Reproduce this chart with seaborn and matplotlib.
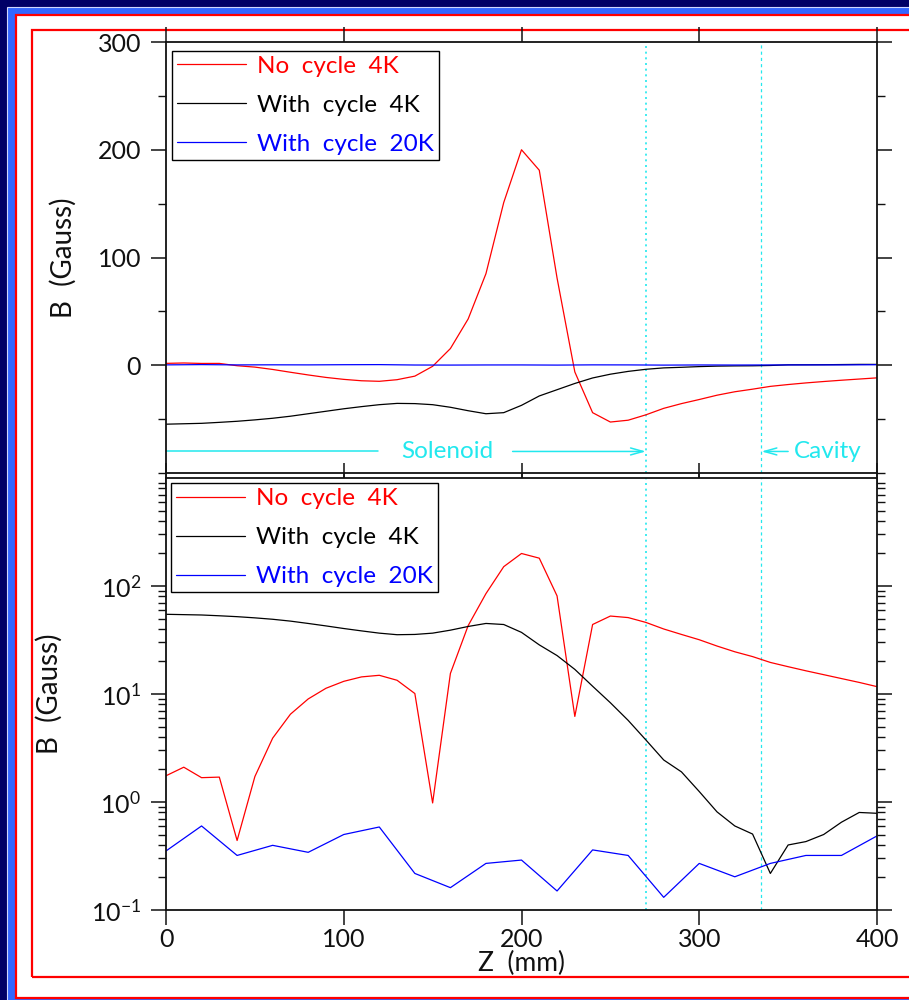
import numpy as np
import pandas as pd
import matplotlib
matplotlib.use("Agg")
import matplotlib.pyplot as plt
from matplotlib.patches import Rectangle
from matplotlib.ticker import MultipleLocator, LogLocator, NullFormatter, FixedLocator, FuncFormatter
import seaborn as sns

# ---------------- data ----------------
z_fine = list(range(0, 401, 10))
no_cycle_4k = [1.75, 2.1, 1.68, 1.70, -0.44, -1.72, -3.9, -6.5, -9.0, -11.3,
               -13.1, -14.4, -14.9, -13.4, -10.1, -0.98, 15.5, 43.0, 85.0, 151.0,
               200.0, 181.0, 81.0, -6.2, -44.0, -52.7, -51.0, -46.0, -40.0, -35.6,
               -31.8, -27.8, -24.6, -22.2, -19.6, -17.9, -16.4, -15.1, -13.9, -12.8,
               -11.7]
with_cycle_4k = [-54.7, -54.3, -53.9, -53.0, -52.0, -50.7, -49.2, -47.3, -45.0, -42.7,
                 -40.4, -38.4, -36.6, -35.4, -35.6, -36.6, -39.0, -42.2, -45.0, -44.0,
                 -37.2, -28.5, -22.7, -16.9, -11.8, -8.3, -5.7, -3.75, -2.45, -1.9,
                 -1.25, -0.81, -0.60, -0.505, -0.218, 0.40, 0.43, 0.50, 0.65, 0.80,
                 0.786]
z_coarse = list(range(0, 401, 20))
with_cycle_20k = [0.352, 0.60, 0.32, 0.397, 0.342, 0.50, 0.587, 0.218, 0.161, 0.27,
                  0.29, 0.15, 0.36, 0.32, 0.131, 0.27, 0.203, 0.27, 0.32, 0.32, 0.485]

labels = ["No  cycle  4K", "With  cycle  4K", "With  cycle  20K"]
colors = ["#ff0000", "#000000", "#0000ff"]
solenoid_end = 270
cavity_start = 335
lin_ticks = [0, 100, 200, 300]
x_ticks = [0, 100, 200, 300, 400]

df = pd.concat([
    pd.DataFrame({"Z": z_fine, "B": no_cycle_4k, "series": labels[0]}),
    pd.DataFrame({"Z": z_fine, "B": with_cycle_4k, "series": labels[1]}),
    pd.DataFrame({"Z": z_coarse, "B": with_cycle_20k, "series": labels[2]}),
], ignore_index=True)
df["absB"] = df["B"].abs()

# ---------------- style ----------------
sns.set_style("ticks")
FONT = ["Lato", "DejaVu Sans"]
plt.rcParams["font.family"] = FONT
plt.rcParams["font.weight"] = "normal"
plt.rcParams["text.color"] = "#111111"
plt.rcParams["axes.labelcolor"] = "#111111"
plt.rcParams["xtick.color"] = "#111111"
plt.rcParams["ytick.color"] = "#111111"
plt.rcParams["mathtext.fontset"] = "custom"
plt.rcParams["mathtext.rm"] = "Lato"
plt.rcParams["mathtext.it"] = "Lato"
plt.rcParams["mathtext.default"] = "rm"

W, H = 909, 1000
fig = plt.figure(figsize=(W / 100, H / 100), dpi=100)
fig.patch.set_facecolor("#000066")

def px_rect(x0, y0, x1, y1, **kw):
    r = Rectangle((x0 / W, 1 - y1 / H), (x1 - x0) / W, (y1 - y0) / H,
                  transform=fig.transFigure, zorder=-5, **kw)
    fig.add_artist(r)

px_rect(7, 6.5, 950, 1050, facecolor="#3366ff", edgecolor="#d0d8ff", linewidth=0.8)
px_rect(15.5, 14.5, 950, 998, facecolor="white", edgecolor="#ff0000", linewidth=1.6)
px_rect(32, 30, 950, 977, facecolor="none", edgecolor="#ff0000", linewidth=1.6)

axL = 166 / W
axW = 711 / W
ax1 = fig.add_axes([axL, 1 - 473 / H, axW, 431 / H])
ax2 = fig.add_axes([axL, 1 - 910 / H, axW, 432 / H])

pal = dict(zip(labels, colors))
sns.lineplot(data=df, x="Z", y="B", hue="series", palette=pal, ax=ax1,
             linewidth=0.9, legend=False, sort=False, estimator=None)
sns.lineplot(data=df, x="Z", y="absB", hue="series", palette=pal, ax=ax2,
             linewidth=0.9, legend=False, sort=False, estimator=None)

cyan = "#22e8ee"
for ax in (ax1, ax2):
    ax.axvline(solenoid_end, color=cyan, linestyle=(0, (1.2, 2.2)), linewidth=1.2, zorder=1)
    ax.axvline(cavity_start, color=cyan, linestyle=(0, (2.5, 2.5)), linewidth=0.9, zorder=1)
    ax.set_xlim(0, 400)
    ax.set_facecolor("white")
    for s in ax.spines.values():
        s.set_visible(True)
        s.set_linewidth(1.3)
        s.set_color("#111111")
    ax.tick_params(which="major", direction="out", length=11, width=1.1,
                   top=True, right=True, labelsize=18, pad=7, color="#111111")
    ax.tick_params(which="minor", direction="out", length=6, width=1.0,
                   top=False, right=True, color="#111111")
    ax.tick_params(axis="x", which="major", pad=2)
    ax.xaxis.set_major_locator(FixedLocator(x_ticks))
    ax.set_ylabel("B  (Gauss)", fontsize=20)

ax1.yaxis.set_label_coords(-0.126, 0.5)
ax2.yaxis.set_label_coords(-0.145, 0.5)

ax1.set_ylim(-100, 300)
ax1.yaxis.set_major_locator(FixedLocator(lin_ticks))
ax1.yaxis.set_minor_locator(MultipleLocator(50))
ax1.tick_params(axis="x", labelbottom=False)
ax1.set_xlabel("")

ax2.set_yscale("log")
ax2.set_ylim(0.1, 1000)
ax2.yaxis.set_major_locator(FixedLocator([0.1, 1, 10, 100]))
ax2.yaxis.set_minor_locator(LogLocator(base=10, subs=np.arange(2, 10), numticks=20))
ax2.yaxis.set_minor_formatter(NullFormatter())
ax2.yaxis.set_major_formatter(FuncFormatter(
    lambda v, p: r"$10^{%d}$" % int(round(np.log10(v)))))
ax2.set_xlabel("Z  (mm)", fontsize=19, labelpad=0)

# legends
for ax, anchor in ((ax1, (0.0085, 0.979)), (ax2, (0.0070, 0.988))):
    handles = [plt.Line2D([], [], color=c, linewidth=0.9) for c in colors]
    leg = ax.legend(handles, labels, loc="upper left", bbox_to_anchor=anchor,
                    borderaxespad=0, fontsize=17.5, handlelength=2.85,
                    handletextpad=0.45, labelspacing=0.74, borderpad=0.2,
                    frameon=True, fancybox=False, labelcolor=colors)
    fr = leg.get_frame()
    fr.set_edgecolor("black")
    fr.set_linewidth(1.0)
    fr.set_facecolor("white")
    fr.set_alpha(1)

# Solenoid / Cavity annotations
yann = -80
ax1.plot([0, 119.5], [yann, yann], color=cyan, linewidth=1.1, clip_on=False)
ax1.text(158, yann, "Solenoid", color=cyan, fontsize=17.5, ha="center", va="center")
ax1.annotate("", xy=(solenoid_end, yann), xytext=(195, yann),
             arrowprops=dict(arrowstyle="->,head_length=0.9,head_width=0.25",
                             color=cyan, linewidth=1.1, shrinkA=0, shrinkB=0))
ax1.annotate("", xy=(cavity_start, yann), xytext=(350, yann),
             arrowprops=dict(arrowstyle="->,head_length=0.9,head_width=0.25",
                             color=cyan, linewidth=1.1, shrinkA=0, shrinkB=0))
ax1.text(353, yann, "Cavity", color=cyan, fontsize=17.5, ha="left", va="center")

fig.savefig("out.png", dpi=100, facecolor=fig.get_facecolor())
